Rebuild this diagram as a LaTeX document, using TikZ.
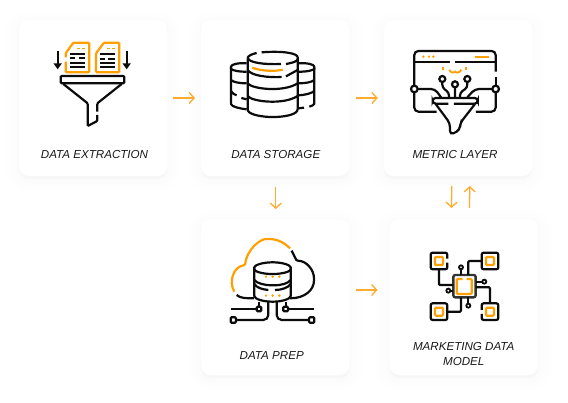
\documentclass[tikz,border=0pt]{standalone}
\usepackage{fontspec}
\setmainfont{Liberation Sans}
\usetikzlibrary{arrows.meta,positioning,shadows}
\definecolor{amber}{HTML}{FFA000}
\definecolor{arrowamber}{HTML}{FFAB2E}
\definecolor{inkblack}{HTML}{0C0C0C}
\tikzset{
 softlayer/.style={general shadow={draw=black,fill=black,opacity=.004,line width=#1,shadow yshift=-3pt}},
 card/.style={fill=white,rounded corners=10pt,minimum width=148.5pt,minimum height=156pt,
              outer sep=0pt,inner sep=0pt,softlayer=26pt,softlayer=18pt,softlayer=10pt,softlayer=4pt},
 cardtext/.style={align=center,inner sep=0pt,font=\fontsize{11.6}{15}\selectfont\itshape,text=black!90},
 flow/.style={-{Straight Barb[length=5pt,width=11pt]},line width=1.3pt,draw=arrowamber},
 ink/.style={draw=inkblack,line width=2.2pt,rounded corners=1pt},
 glow/.style={draw=amber,line width=2.2pt,rounded corners=1pt},
 zoomed/.style={shift={#1},x=.3333pt,y=-.3333pt}
}
\begin{document}
\begin{tikzpicture}[x=1pt,y=-1pt]
\useasboundingbox (0,0) rectangle (568,403);
\fill[white] (0,0) rectangle (568,403);
\node[card] (extract) at (93,98) {};
\node[card,right=33.75pt of extract] (store) {};
\node[card,right=34.25pt of store] (metric) {};
\node[card,below=43pt of store] (prep) {};
\node[card,right=40pt of prep] (model) {};
\node[cardtext] (extractt) at ([yshift=21.5pt,xshift=1.5pt]extract.south) {DATA EXTRACTION};
\node[cardtext] (storet) at ([yshift=21pt,xshift=.5pt]store.south) {DATA STORAGE};
\node[cardtext] (metrict) at ([yshift=21pt,xshift=-3pt]metric.south) {METRIC LAYER};
\node[cardtext] (prept) at ([yshift=19.5pt,xshift=-3.5pt]prep.south) {DATA PREP};
\node[cardtext] (modelt) at ([yshift=21pt]model.south) {MARKETING DATA\\MODEL};
\draw[flow,shorten >=6pt,shorten <=6pt] (extract)--(store);
\draw[flow,shorten >=6pt,shorten <=6pt] (store)--(metric);
\draw[flow,shorten >=10pt,shorten <=11pt] ([xshift=.5pt]store.south)--([xshift=.5pt]prep.north);
\draw[flow,shorten >=12pt,shorten <=6pt] ([yshift=7pt]prep.east)--([yshift=7pt]model.west);
\draw[flow,shorten >=11pt,shorten <=10pt] ([xshift=-6pt]metric.south)--([xshift=-12.5pt]model.north);
\draw[flow,shorten >=10pt,shorten <=11pt] ([xshift=5.5pt]model.north)--([xshift=12pt]metric.south);
\begin{scope}[zoomed={(20,20)}]
\draw[glow] (137,112)--(137,100)--(160,68)--(208,68)--(208,157)--(137,157)--(137,125);
\draw[glow] (228,157)--(228,100)--(252,68)--(298,68)--(298,157)--cycle;
\draw[glow,line width=1.6pt] (172,85)--(180,85) (186,85)--(194,85) (262,85)--(270,85) (276,85)--(284,85);
\draw[ink] (150,103)--(195,103) (150,115)--(165,115) (178,115)--(195,115) (150,128)--(195,128) (150,140)--(195,140);
\draw[ink] (240,103)--(285,103) (240,117)--(255,117) (265,117)--(285,117) (240,128)--(285,128) (240,140)--(285,140);
\draw[ink,-{Triangle[length=6pt,width=8pt]}] (113,92)--(113,148);
\draw[ink,-{Triangle[length=6pt,width=8pt]}] (320,92)--(320,148);
\draw[ink] (122,168) rectangle (313,190);
\draw[ink] (130,192)--(203,250)--(203,318)--(232,303)--(232,285);
\draw[ink] (232,275)--(232,250)--(305,192);
\end{scope}
\begin{scope}[zoomed={(200,20)}]
\draw[ink] (170,99) .. controls (155,102) and (143,108) .. (143,115);
\draw[ink] (185,97) .. controls (250,92) and (293,100) .. (293,115) .. controls (293,125) and (270,130) .. (258,132);
\draw[ink] (143,115) .. controls (150,128) and (190,134) .. (243,132);
\draw[glow] (157,143) .. controls (180,153) and (225,155) .. (248,149);
\draw[ink] (143,115)--(143,270) .. controls (150,285) and (190,291) .. (218,291) .. controls (250,291) and (285,285) .. (293,270)--(293,115);
\draw[ink] (143,150) .. controls (155,168) and (205,173) .. (245,171) (258,169)--(293,150);
\draw[ink] (143,190) .. controls (155,207) and (250,218) .. (293,190);
\draw[ink] (143,228) .. controls (155,245) and (250,256) .. (293,228);
\draw[ink] (140,130) .. controls (115,128) and (93,133) .. (93,143) .. controls (93,150) and (115,156) .. (140,155);
\draw[ink] (93,143)--(93,250) .. controls (95,260) and (120,266) .. (140,268);
\draw[ink] (93,180) .. controls (100,187) and (120,190) .. (140,190);
\draw[ink] (93,213) .. controls (97,220) and (103,224) .. (110,226);
\draw[ink] (124,234)--(140,238);
\draw[ink] (296,130) .. controls (320,128) and (343,133) .. (343,143) .. controls (343,150) and (320,156) .. (296,155);
\draw[ink] (343,143)--(343,248) .. controls (343,255) and (335,258) .. (328,260);
\draw[ink] (296,265)--(312,263);
\draw[ink] (343,180) .. controls (335,187) and (315,190) .. (296,190);
\draw[ink] (343,213) .. controls (335,220) and (315,225) .. (296,226);
\end{scope}
\begin{scope}[zoomed={(380,20)}]
\draw[ink,rounded corners=4pt] (103,195)--(103,93)--(347,93)--(347,155);
\draw[ink] (347,170)--(347,195);
\draw[ink,rounded corners=4pt] (103,219)--(103,275)--(170,275);
\draw[ink,rounded corners=4pt] (347,219)--(347,275)--(288,275);
\draw[ink] (103,127)--(210,127) (225,127)--(347,127);
\foreach \dotx in {130,147,160} \fill[amber] (\dotx,110) circle[radius=4];
\draw[glow] (285,110)--(327,110) (190,140)--(190,151) (258,140)--(258,151);
\draw[glow,line width=1.8pt] (208,149) .. controls (210,158) and (222,160) .. (225,152) .. controls (228,160) and (241,158) .. (244,149);
\draw[ink] (103,207) circle[radius=10] (347,207) circle[radius=10];
\draw[ink] (187,177) circle[radius=9] (225,193) circle[radius=9] (262,177) circle[radius=9];
\draw[ink,rounded corners=3pt] (187,186)--(187,203)--(207,218)--(207,232) (225,202)--(225,232) (262,186)--(262,203)--(240,218)--(240,232);
\draw[ink,rounded corners=4pt] (113,207)--(165,207)--(183,232) (337,207)--(285,207)--(262,232);
\draw[ink,rounded corners=3pt] (205,251)--(158,251)--(158,234)--(293,234)--(293,251)--(222,251);
\draw[ink,rounded corners=4pt] (167,252)--(210,310)--(210,345)--(240,330)--(240,310)--(285,252);
\end{scope}
\begin{scope}[zoomed={(200,220)}]
\draw[glow] (103,215) .. controls (85,185) and (100,140) .. (135,135) .. controls (140,90) and (180,55) .. (205,57) .. controls (235,57) and (258,72) .. (270,85);
\draw[ink] (275,92)--(290,122) .. controls (320,122) and (342,150) .. (342,178) .. controls (342,210) and (315,235) .. (270,235);
\draw[ink] (110,225) .. controls (120,235) and (140,235) .. (162,235);
\draw[ink] (163,145) .. controls (163,135) and (190,127) .. (218,127) .. controls (245,127) and (272,135) .. (272,145) .. controls (272,155) and (245,162) .. (218,162) .. controls (190,162) and (163,155) .. (163,145)--cycle;
\draw[ink] (163,145)--(163,225) .. controls (163,237) and (190,245) .. (218,245) .. controls (245,245) and (272,237) .. (272,225)--(272,145);
\draw[ink] (163,180) .. controls (170,190) and (195,196) .. (218,196) .. controls (245,196) and (265,190) .. (272,180);
\draw[ink] (163,192) .. controls (170,203) and (185,208) .. (205,210);
\draw[ink] (225,210) .. controls (245,210) and (265,203) .. (272,192);
\foreach \doty in {170,227} \foreach \dotx in {198,218,238} \fill[amber] (\dotx,\doty) circle[radius=4];
\draw[ink] (170,260) rectangle (184,274) (250,260) rectangle (264,274) (92,292) rectangle (108,308) (327,292) rectangle (343,308);
\draw[ink] (92,267)--(170,267) (264,267)--(343,267) (177,245)--(177,260) (257,245)--(257,260);
\draw[ink,rounded corners=5pt] (205,245)--(205,300)--(108,300) (230,245)--(230,300)--(327,300);
\end{scope}
\begin{scope}[zoomed={(390,180)}]
\draw[ink,rounded corners=2pt] (172,248)--(172,268)--(122,268)--(122,218)--(172,218)--(172,236);
\draw[ink,rounded corners=2pt] (275,218) rectangle (325,268);
\draw[ink,rounded corners=2pt] (122,370) rectangle (172,420);
\draw[ink,rounded corners=2pt] (275,402)--(275,420)--(325,420)--(325,370)--(275,370)--(275,390);
\foreach \sqx/\sqy in {147/243,300/243,147/395,300/395}
  \draw[glow] (\sqx-12,\sqy-12) rectangle (\sqx+12,\sqy+12);
\draw[ink,draw=black!80,line width=2.4pt,rounded corners=2pt] (190,285) rectangle (257,352);
\draw[glow] (218,297)--(200,297)--(200,342)--(245,342)--(245,297)--(230,297);
\draw[ink] (147,268)--(147,315)--(190,315) (275,243)--(235,243)--(235,285) (172,395)--(213,395)--(213,352) (257,322)--(300,322)--(300,370);
\draw[ink] (213,285)--(213,268) (257,305)--(277,305) (190,332)--(181,332) (235,352)--(235,371);
\draw[ink,line width=1.8pt] (213,262) circle[radius=6] (283,305) circle[radius=6] (175,332) circle[radius=6] (235,377) circle[radius=6];
\end{scope}
\end{tikzpicture}
\end{document}
